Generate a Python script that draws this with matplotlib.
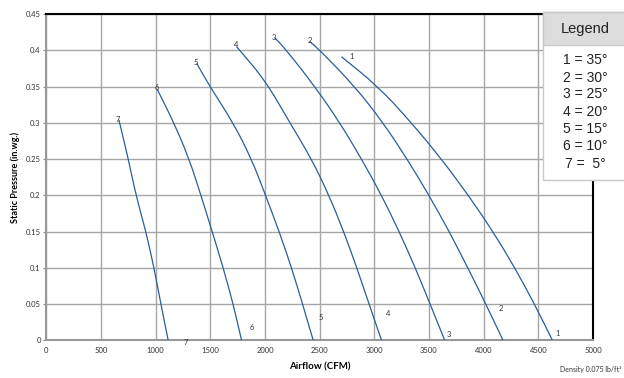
import matplotlib
matplotlib.use('Agg')
import matplotlib.pyplot as plt
from matplotlib.patches import Rectangle, PathPatch
from matplotlib.path import Path

# fan curves: airflow (CFM) and static pressure (in.wg.)
flow_1 = [2700, 3035, 3340, 3614, 3860, 4085, 4285, 4465, 4629]
press_1 = [0.391, 0.35, 0.30, 0.25, 0.20, 0.15, 0.10, 0.05, 0.0]
flow_2 = [2410, 2502, 2822, 3081, 3300, 3500, 3685, 3855, 4020, 4177]
press_2 = [0.412, 0.40, 0.35, 0.30, 0.25, 0.20, 0.15, 0.10, 0.05, 0.0]
flow_3 = [2091, 2197, 2456, 2685, 2883, 3066, 3227, 3375, 3510, 3644]
press_3 = [0.417, 0.40, 0.35, 0.30, 0.25, 0.20, 0.15, 0.10, 0.05, 0.0]
flow_4 = [1740, 2000, 2228, 2426, 2585, 2720, 2840, 2952, 3066]
press_4 = [0.405, 0.359, 0.30, 0.25, 0.20, 0.15, 0.10, 0.05, 0.0]
flow_5 = [1375, 1496, 1709, 1877, 2005, 2130, 2243, 2344, 2441]
press_5 = [0.382, 0.35, 0.30, 0.25, 0.20, 0.15, 0.10, 0.05, 0.0]
flow_6 = [1015, 1167, 1307, 1414, 1517, 1618, 1709, 1786]
press_6 = [0.346, 0.30, 0.25, 0.20, 0.15, 0.10, 0.05, 0.0]
flow_7 = [664, 750, 820, 911, 985, 1048, 1115]
press_7 = [0.304, 0.25, 0.20, 0.15, 0.10, 0.05, 0.0]

curve_names = ['1', '2', '3', '4', '5', '6', '7']
flows = [flow_1, flow_2, flow_3, flow_4, flow_5, flow_6, flow_7]
pressures = [press_1, press_2, press_3, press_4, press_5, press_6, press_7]

# where the small curve numbers sit
top_label_x = [2792, 2410, 2084, 1734, 1368, 1009, 658]
top_label_y = [0.391, 0.414, 0.418, 0.408, 0.383, 0.348, 0.305]
bottom_label_x = [4680, 4154, 3681, 3126, 2508, 1877, 1277]
bottom_label_y = [0.010, 0.044, 0.008, 0.037, 0.031, 0.018, -0.003]

legend_lines = ['1 = 35°', '2 = 30°', '3 = 25°', '4 = 20°', '5 = 15°', '6 = 10°', '7 =  5°']


def smooth_path(xs, ys):
    # quadratic bezier through the midpoints, read points act as control points
    pts = list(zip(xs, ys))
    verts = [pts[0]]
    codes = [Path.MOVETO]
    for i in range(1, len(pts) - 1):
        mid = ((pts[i][0] + pts[i + 1][0]) / 2, (pts[i][1] + pts[i + 1][1]) / 2)
        if i == 1:
            first_mid = ((pts[0][0] + pts[1][0]) / 2, (pts[0][1] + pts[1][1]) / 2)
            verts.append(first_mid)
            codes.append(Path.LINETO)
        verts += [pts[i], mid]
        codes += [Path.CURVE3, Path.CURVE3]
    verts.append(pts[-1])
    codes.append(Path.LINETO)
    return Path(verts, codes)


plt.rcParams['font.family'] = ['Lato', 'DejaVu Sans']

fig = plt.figure(figsize=(6.24, 3.78), dpi=100)
ax = fig.add_axes([0.0742, 0.0997, 0.8761, 0.8633])

for fl, pr in zip(flows, pressures):
    ax.add_patch(PathPatch(smooth_path(fl, pr), facecolor='none', edgecolor='#2b5d9b',
                           linewidth=0.9, zorder=3))

for name, x, y in zip(curve_names, top_label_x, top_label_y):
    ax.text(x, y, name, fontsize=5.5, color='#333333', ha='center', va='center', zorder=4)
for name, x, y in zip(curve_names, bottom_label_x, bottom_label_y):
    ax.text(x, y, name, fontsize=5.5, color='#333333', ha='center', va='center', zorder=4,
            clip_on=False)

ax.set_xlim(0, 5000)
ax.set_ylim(0, 0.45)
ax.set_xticks(range(0, 5001, 500))
ax.set_yticks([0, 0.05, 0.1, 0.15, 0.2, 0.25, 0.3, 0.35, 0.4, 0.45])
ax.set_yticklabels(['0', '0.05', '0.1', '0.15', '0.2', '0.25', '0.3', '0.35', '0.4', '0.45'])
ax.grid(True, color='#a6a6a6', linewidth=1.0)
ax.set_axisbelow(True)
ax.tick_params(axis='both', labelsize=5.5, labelcolor='#333333', color='#888888')
ax.tick_params(axis='x', length=0, pad=5)
ax.tick_params(axis='y', length=2, pad=2)

ax.spines['top'].set_color('black')
ax.spines['top'].set_linewidth(1.5)
ax.spines['right'].set_color('black')
ax.spines['right'].set_linewidth(1.5)
ax.spines['left'].set_color('#999999')
ax.spines['left'].set_linewidth(1.5)
ax.spines['bottom'].set_color('#999999')
ax.spines['bottom'].set_linewidth(1.5)

ax.set_xlabel('Airflow (CFM)', fontsize=7, fontweight='bold', labelpad=6)
ax.set_ylabel('Static Pressure (in.wg.)', fontsize=6.5, fontweight='bold', labelpad=4)

fig.text(0.8975, 0.014, 'Density 0.075 lb/ft³', fontsize=5, color='#333333', ha='left', va='bottom')

# legend box drawn in figure coordinates, runs off the right edge
fig.patches.append(Rectangle((0.8697, 0.5238), 0.2, 0.4437, transform=fig.transFigure,
                             facecolor='white', edgecolor='#c8c8c8', linewidth=1.0, zorder=5))
fig.patches.append(Rectangle((0.8697, 0.881), 0.2, 0.0865, transform=fig.transFigure,
                             facecolor='#dcdcdc', edgecolor='#c8c8c8', linewidth=1.0, zorder=5))
fig.text(0.9375, 0.923, 'Legend', fontsize=10.5, ha='center', va='center', color='#222222',
         family=['Liberation Sans', 'DejaVu Sans'], zorder=6)
legend_y = [60, 78, 94.5, 111.5, 128.5, 146, 164]
for line, y in zip(legend_lines, legend_y):
    fig.text(0.9375, 1 - y / 378, line, fontsize=10, ha='center', va='center', color='#222222',
             family=['Liberation Sans', 'DejaVu Sans'], zorder=6)

fig.savefig('out.png', dpi=100)
